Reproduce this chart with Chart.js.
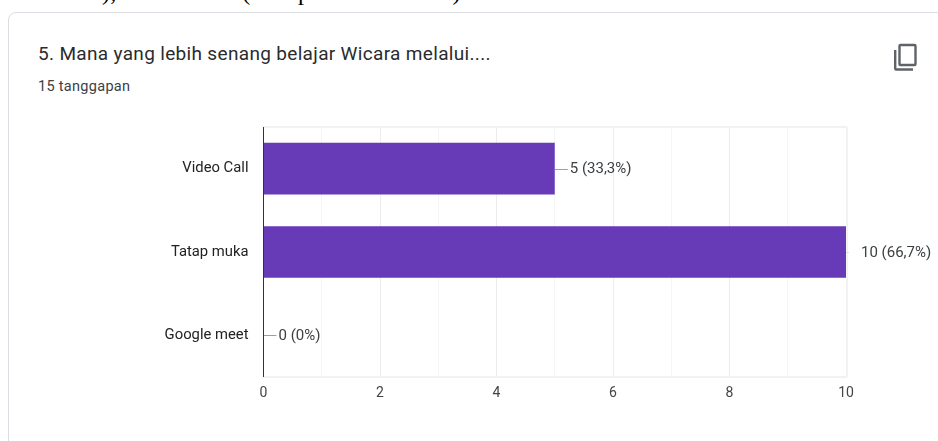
<!DOCTYPE html>
<html><head><meta charset="utf-8">
<style>
html,body{margin:0;padding:0;background:#fff;width:938px;height:441px;overflow:hidden;position:relative}
#top{position:absolute;left:0;top:-21px;width:938px;font:24px "Liberation Serif",serif;letter-spacing:.3px;color:#000;white-space:pre;padding-left:3px}
#card{position:absolute;left:8px;top:12px;width:960px;height:460px;border:1.5px solid #dcdde3;border-radius:8px;box-sizing:border-box}
#title{position:absolute;left:38px;top:42px;font:19px Roboto,sans-serif;letter-spacing:.33px;color:#2a2b2e;white-space:nowrap}
#sub{position:absolute;left:38px;top:78px;font:14.5px Roboto,sans-serif;letter-spacing:.3px;color:#3c4043;white-space:nowrap}
#copy{position:absolute;left:891px;top:41px}
#wrap{position:absolute;left:0;top:0;width:938px;height:441px}
</style></head><body>
<div id="top">dan 100%),  Video call  (5 responden 33.33%).</div>
<div id="card"></div>
<div id="title">5. Mana yang lebih senang belajar Wicara melalui....</div>
<div id="sub">15 tanggapan</div>
<svg id="copy" width="30" height="32" viewBox="0 0 30 32" fill="none" stroke="#5f6368" stroke-width="2.4"><rect x="8.5" y="4" width="16" height="20" rx="1"/><path d="M4.2 9v18.5a1 1 0 0 0 1 1H22"/></svg>
<div id="wrap"><canvas id="c" width="938" height="441"></canvas></div>
<script src="https://cdn.jsdelivr.net/npm/chart.js@4/dist/chart.umd.js"></script>
<script>
const categories = ["Video Call", "Tatap muka", "Google meet"];
const counts = [5, 10, 0];
const valueLabels = ["5 (33,3%)", "10 (66,7%)", "0 (0%)"];
const labelFont = "15px Roboto, sans-serif";

const leaderLabels = {
  id: "leaderLabels",
  beforeDatasetsDraw(chart) {
    const { ctx, scales: { x, y } } = chart;
    ctx.save();
    ctx.strokeStyle = "#f2f2f2";
    ctx.lineWidth = 2;
    ctx.beginPath();
    ctx.moveTo(x.left, y.top);
    ctx.lineTo(x.right + 1, y.top);
    ctx.moveTo(x.left, y.bottom);
    ctx.lineTo(x.right + 1, y.bottom);
    ctx.moveTo(x.right + 1, y.top);
    ctx.lineTo(x.right + 1, y.bottom);
    ctx.stroke();
    ctx.restore();
  },
  afterDatasetsDraw(chart) {
    const { ctx, scales: { x, y } } = chart;
    ctx.save();
    ctx.font = labelFont;
    ctx.textBaseline = "middle";
    counts.forEach((v, i) => {
      const px = x.getPixelForValue(v), py = y.getPixelForValue(i);
      const len = v === x.max ? 3 : 13;
      ctx.strokeStyle = v === x.max ? "#e0e0e0" : "#9e9e9e";
      ctx.lineWidth = 1;
      ctx.beginPath();
      ctx.moveTo(px, Math.round(py) + 0.5);
      ctx.lineTo(px + len, Math.round(py) + 0.5);
      ctx.stroke();
      ctx.fillStyle = "#3c4043";
      ctx.fillText(valueLabels[i], px + 15, py + 1);
    });
    ctx.strokeStyle = "#333";
    ctx.beginPath();
    ctx.moveTo(x.left, y.top);
    ctx.lineTo(x.left, y.bottom);
    ctx.stroke();
    ctx.restore();
  }
};

new Chart(document.getElementById("c"), {
  type: "bar",
  data: {
    labels: categories,
    datasets: [{
      data: counts,
      backgroundColor: "#673ab7",
      borderWidth: 0,
      barPercentage: 0.62,
      categoryPercentage: 1
    }]
  },
  plugins: [leaderLabels],
  options: {
    indexAxis: "y",
    responsive: false,
    animation: false,
    layout: { padding: { left: 0, right: 92, top: 127, bottom: 0 } },
    plugins: { legend: { display: false }, tooltip: { enabled: false } },
    scales: {
      x: {
        min: 0, max: 10,
        afterFit: s => { s.height = 64; },
        ticks: {
          stepSize: 1, autoSkip: false, maxRotation: 0,
          padding: 8,
          color: "#444",
          font: { family: "Roboto, sans-serif", size: 14 },
          callback: v => (v % 2 === 0 ? String(v) : "")
        },
        grid: {
          drawTicks: false,
          color: c => (c.tick.value % 2 === 0 ? "#ececec" : "#f5f5f5")
        },
        border: { display: false }
      },
      y: {
        afterFit: s => { s.width = 263.5; },
        ticks: {
          padding: 15,
          color: "#222",
          font: { family: "Roboto, sans-serif", size: 14.8 }
        },
        grid: { display: false, drawTicks: false },
        border: { display: false }
      }
    }
  }
});
</script>
</body></html>
